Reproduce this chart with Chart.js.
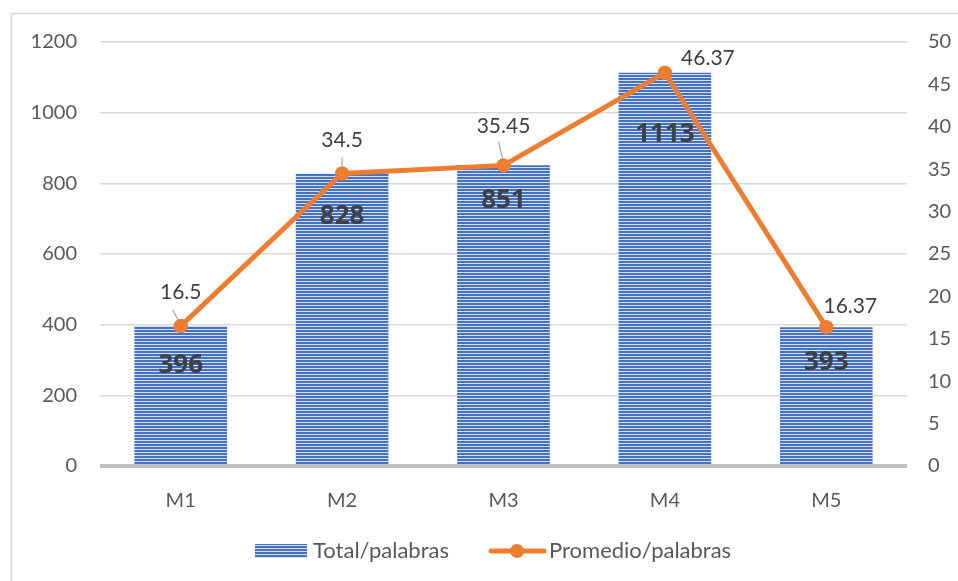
<!DOCTYPE html>
<html><head><meta charset="utf-8">
<script src="https://cdn.jsdelivr.net/npm/chart.js@4/dist/chart.umd.min.js"></script>
<style>html,body{margin:0;padding:0;background:#fff;}#wrap{width:958px;height:581px;position:relative;}</style>
</head><body><div id="wrap"><canvas id="c" width="958" height="581"></canvas></div>
<script>
const categories = ['M1','M2','M3','M4','M5'];
const totalPalabras = [396, 828, 851, 1113, 393];
const promedioPalabras = [16.5, 34.5, 35.45, 46.37, 16.37];
const leftTicks = [0,200,400,600,800,1000,1200];
const rightTicks = [0,5,10,15,20,25,30,35,40,45,50];
const seriesNames = ['Total/palabras','Promedio/palabras'];

const FONT = 'Lato, "Open Sans", sans-serif';
const BOLDFONT = '"Open Sans", "Noto Sans", sans-serif';
const ORANGE = '#ED7D31';
const TXT = '#595959';

function makePattern(){
  const p = document.createElement('canvas');
  p.width = 4; p.height = 3;
  const g = p.getContext('2d');
  g.fillStyle = '#4472c4'; g.fillRect(0,0,4,2);
  g.fillStyle = '#d4def2'; g.fillRect(0,2,4,1);
  return p.getContext('2d').createPattern(p,'repeat');
}
const pat = makePattern();

const barLabelOffset = [40, 43, 35, 62, 35];
const lineLabelShift = [[0,-34],[0,-33],[0,-39],[43,-15],[24,-21]];
const leaders = [[[-8,-16],[-1,-3]],[[0,-16],[0,-3]],[[-5,-24],[-1,-7]],null,null];

const overlay = {
  id:'overlay',
  beforeDraw(chart){
    const ctx = chart.ctx;
    ctx.save();
    ctx.fillStyle='#fff'; ctx.fillRect(0,0,chart.width,chart.height);
    ctx.strokeStyle='#d9d9d9'; ctx.lineWidth=1.5;
    ctx.strokeRect(11.5,13.5,1200,1200);
    ctx.restore();
  },
  afterDatasetsDraw(chart){
    const ctx = chart.ctx;
    ctx.save();
    const ys = chart.scales.y, area = chart.chartArea;
    const y0 = ys.getPixelForValue(0);
    ctx.strokeStyle='#bfbfbf'; ctx.lineWidth=4;
    ctx.beginPath(); ctx.moveTo(area.left,y0); ctx.lineTo(area.right,y0); ctx.stroke();
    const bm = chart.getDatasetMeta(1);
    ctx.font = '700 26px '+BOLDFONT; ctx.fillStyle='#404040';
    ctx.textAlign='center'; ctx.textBaseline='middle';
    bm.data.forEach((el,i)=>{ ctx.fillText(String(totalPalabras[i]), el.x, el.y+barLabelOffset[i]); });
    const lm = chart.getDatasetMeta(0);
    ctx.strokeStyle='#a6a6a6'; ctx.lineWidth=1.2;
    lm.data.forEach((el,i)=>{
      const L = leaders[i];
      if(L){ ctx.beginPath(); ctx.moveTo(el.x+L[0][0], el.y+L[0][1]); ctx.lineTo(el.x+L[1][0], el.y+L[1][1]); ctx.stroke(); }
    });
    ctx.fillStyle=ORANGE;
    lm.data.forEach(el=>{ ctx.beginPath(); ctx.arc(el.x,el.y,7,0,Math.PI*2); ctx.fill(); });
    ctx.font = '21px '+FONT; ctx.fillStyle='#404040';
    lm.data.forEach((el,i)=>{
      ctx.fillText(String(promedioPalabras[i]), el.x+lineLabelShift[i][0], el.y+lineLabelShift[i][1]);
    });
    ctx.restore();
  },
  afterDraw(chart){
    const ctx = chart.ctx;
    ctx.save();
    const ly = 551;
    ctx.fillStyle = pat; ctx.fillRect(255, ly-7, 52, 14);
    ctx.font = '22px '+FONT; ctx.fillStyle=TXT; ctx.textAlign='left'; ctx.textBaseline='middle';
    ctx.fillText(seriesNames[0], 313, ly);
    ctx.strokeStyle=ORANGE; ctx.lineWidth=5; ctx.lineCap='round';
    ctx.beginPath(); ctx.moveTo(491,ly); ctx.lineTo(544,ly); ctx.stroke();
    ctx.fillStyle=ORANGE; ctx.beginPath(); ctx.arc(517,ly,7,0,Math.PI*2); ctx.fill();
    ctx.fillStyle=TXT; ctx.fillText(seriesNames[1], 549, ly);
    ctx.restore();
  }
};

new Chart(document.getElementById('c'), {
  data:{
    labels: categories,
    datasets:[
      {type:'line', label:seriesNames[1], data:promedioPalabras, yAxisID:'y1',
       borderColor:ORANGE, backgroundColor:ORANGE, borderWidth:5, pointRadius:7,
       pointBackgroundColor:ORANGE, pointBorderWidth:0, tension:0, order:0},
      {type:'bar', label:seriesNames[0], data:totalPalabras, yAxisID:'y',
       backgroundColor:pat, borderWidth:0, barPercentage:0.7, categoryPercentage:0.82, order:1}
    ]
  },
  options:{
    responsive:false, animation:false, devicePixelRatio:1,
    layout:{padding:{top:42,bottom:0,left:0,right:0}},
    plugins:{legend:{display:false}, tooltip:{enabled:false}},
    scales:{
      x:{grid:{display:false,drawTicks:false}, border:{display:false},
         ticks:{font:{family:FONT,size:20},color:TXT,padding:23},
         afterFit(s){ s.height = 115; }},
      y:{position:'left', min:0, max:1200,
         afterBuildTicks(s){ s.ticks = leftTicks.map(v=>({value:v})); },
         grid:{color:'#d9d9d9', lineWidth:1.5, drawTicks:false}, border:{display:false},
         ticks:{font:{family:FONT,size:20},color:TXT,padding:23, callback:v=>String(v)},
         afterFit(s){ s.width = 100; }},
      y1:{position:'right', min:0, max:50,
         afterBuildTicks(s){ s.ticks = rightTicks.map(v=>({value:v})); },
         grid:{display:false, drawTicks:false}, border:{display:false},
         ticks:{font:{family:FONT,size:20},color:TXT,padding:21, callback:v=>String(v)},
         afterFit(s){ s.width = 51; }}
    }
  },
  plugins:[overlay]
});
</script></body></html>
